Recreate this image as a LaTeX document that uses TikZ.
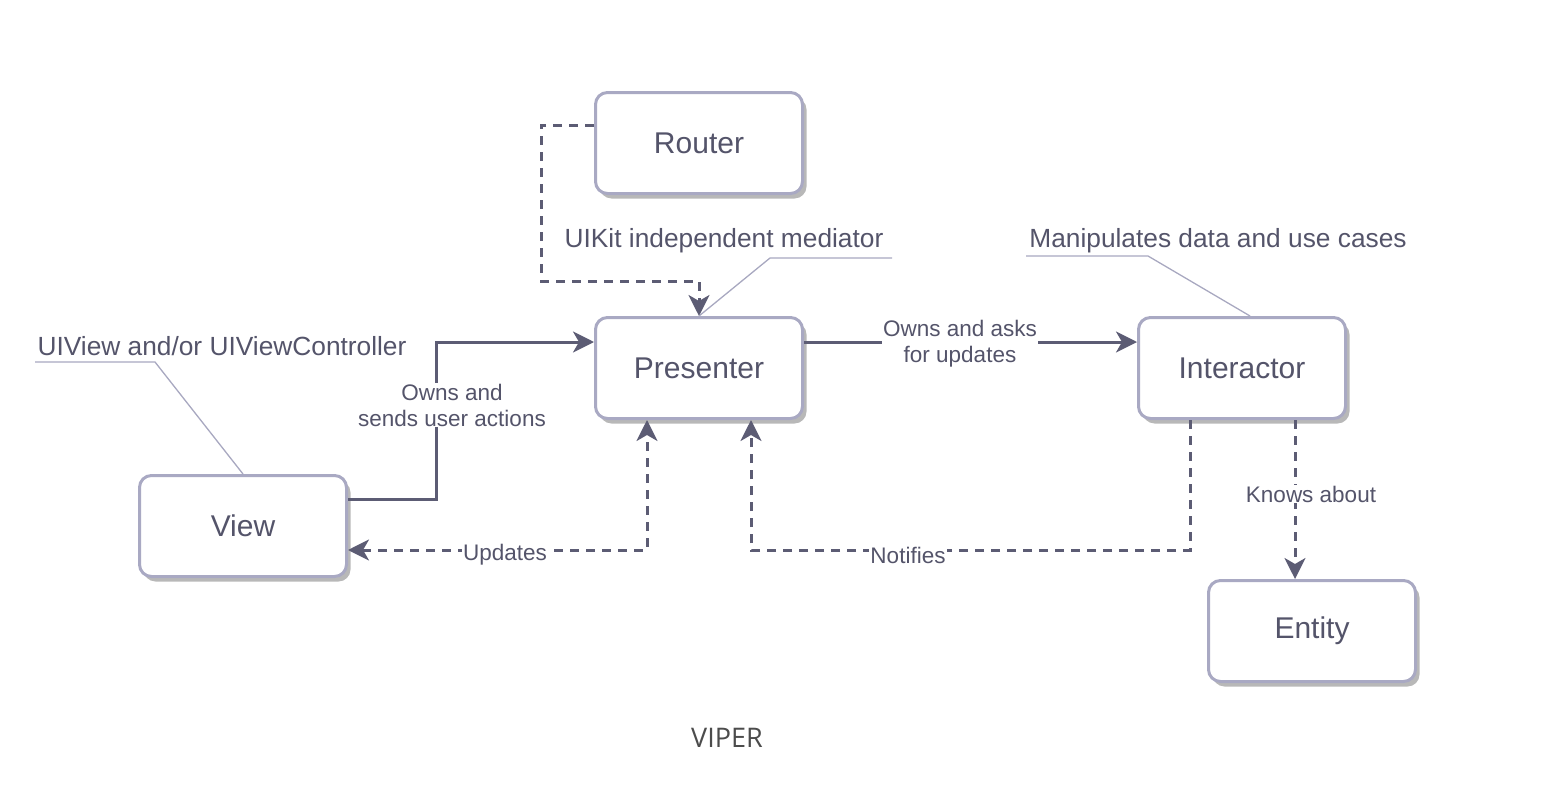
\documentclass[tikz,border=0pt]{standalone}
\usepackage{fontspec}
\setmainfont{Liberation Sans}
\newfontfamily\capfont{Open Sans}
\usetikzlibrary{arrows.meta,shadows}
\definecolor{ink}{HTML}{54546A}
\definecolor{wire}{HTML}{5C5C74}
\definecolor{rim}{HTML}{A9A9C3}
\definecolor{note}{HTML}{A8A8C0}

\begin{document}
\begin{tikzpicture}[
    x=1pt, y=-1pt,
    part/.style={draw=rim, line width=3pt, rounded corners=12pt, fill=white,
      minimum width=207pt, minimum height=101pt, inner sep=0pt,
      text=ink, font=\fontsize{30}{34}\selectfont,
      drop shadow={shadow xshift=4pt, shadow yshift=-5pt, fill=black!28, opacity=1}},
    wire/.style={draw=wire, line width=3pt},
    flow/.style={wire, -{Stealth[length=21pt, width=21pt, inset=6pt]}},
    dashflow/.style={flow, dash pattern=on 9pt off 7pt},
    lbl/.style={fill=white, text=ink, inner sep=1pt, align=center,
      font=\fontsize{22.5}{26}\selectfont},
    noteline/.style={draw=note, line width=1.3pt},
    notetext/.style={text=ink, inner sep=0pt, font=\fontsize{26.3}{30}\selectfont},
  ]
  \useasboundingbox (0,0) rectangle (1544,800);

  % --- the five parts ------------------------------------------------------
  \node[part] (router)     at (699,143)  {Router};
  \node[part] (presenter)  at (699,368)  {Presenter};
  \node[part] (interactor) at (1242,368) {Interactor};
  \node[part] (view)       at (243,526)  {View};
  \node[part] (entity)     at (1312,631) {Entity};

  % --- bend points -----------------------------------------------------------
  \coordinate (rbend) at (541,281);
  \coordinate (vbend) at (436,342);
  \coordinate (nbend) at (751,550);

  % --- solid connectors -----------------------------------------------------
  \draw[flow] ([yshift=27pt]view.east) -| (vbend) -- ([yshift=26pt]presenter.west);
  \node[lbl] (ownsends) at (452,405) {Owns and\\sends user actions};
  \draw[flow] ([yshift=26pt]presenter.east) -- ([yshift=26pt]interactor.west);
  \node[lbl] (ownsasks) at (960,344) {Owns and asks\\for updates};

  % --- dashed connectors ----------------------------------------------------
  \draw[dashflow] ([yshift=18pt]router.west) -| (rbend) -| (presenter.north);
  \draw[dashflow, {Stealth[length=21pt, width=21pt, inset=6pt]}-{Stealth[length=21pt, width=21pt, inset=6pt]}]
    ([yshift=-24pt]view.east) -| ([xshift=-52pt]presenter.south);
  \node[lbl] (updates) at (505,555) {Updates};
  \draw[dashflow] ([xshift=-52pt]interactor.south) |- (nbend) -- ([xshift=52pt]presenter.south);
  \node[lbl] (notifies) at (908,555) {Notifies};
  \draw[dashflow] ([xshift=53pt]interactor.south) -- ([xshift=53pt]interactor.south |- entity.north);
  \node[lbl] (knows) at (1311,494) {Knows about};

  % --- notes ---------------------------------------------------------------
  \node[notetext] (medtxt)  at (724,241)  {UIKit independent mediator};
  \node[notetext] (usetxt)  at (1218,241) {Manipulates data and use cases};
  \node[notetext] (viewtxt) at (222,346)  {UIView and/or UIViewController};
  \draw[noteline] (892,258) -- (770,258) -- (presenter.north);
  \draw[noteline] (1026,256) -- (1148,256) -- ([xshift=8pt]interactor.north);
  \draw[noteline] (35,362) -- (155,362) -- (view.north);

  % --- caption ---------------------------------------------------------------
  \node[text=black!70, font=\capfont\fontsize{27}{30}\selectfont] (caption) at (727,738) {VIPER};

\end{tikzpicture}
\end{document}
